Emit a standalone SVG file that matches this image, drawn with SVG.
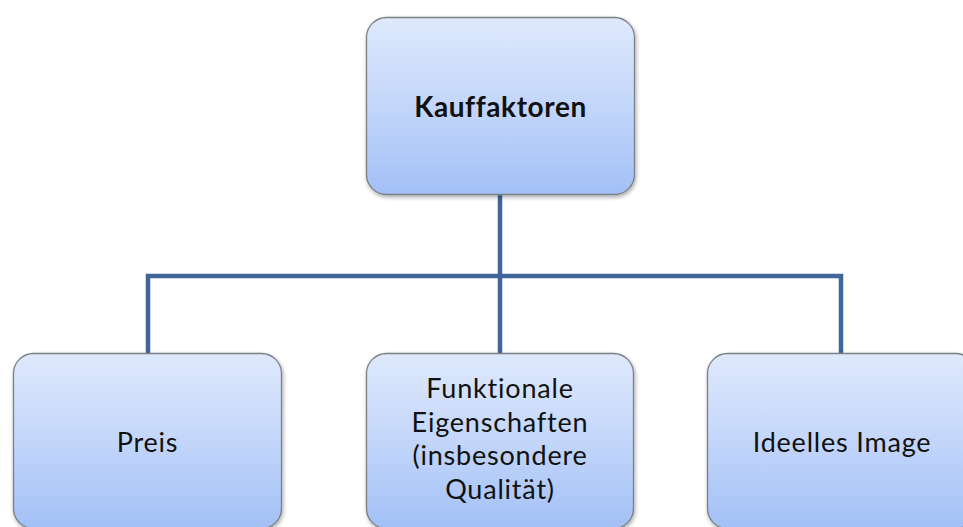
<svg xmlns="http://www.w3.org/2000/svg" width="963" height="527" viewBox="0 0 963 527">
<defs>
<linearGradient id="g" x1="0" y1="0" x2="0" y2="1">
<stop offset="0" stop-color="#dfe9fc"/>
<stop offset="0.5" stop-color="#c3d6fa"/>
<stop offset="1" stop-color="#a2c0f6"/>
</linearGradient>
<filter id="sh" x="-10%" y="-10%" width="120%" height="120%">
<feGaussianBlur in="SourceAlpha" stdDeviation="2"/>
<feOffset dx="1" dy="2"/>
<feComponentTransfer><feFuncA type="linear" slope="0.35"/></feComponentTransfer>
<feMerge><feMergeNode/><feMergeNode in="SourceGraphic"/></feMerge>
</filter>
</defs>
<style>
.box{fill:url(#g);stroke:#7a7f88;stroke-width:1.3;filter:url(#sh)}
.t{font-family:Lato,"Open Sans","Liberation Sans",sans-serif;font-size:27px;letter-spacing:0.8px;font-variant-ligatures:none;fill:#111;text-anchor:middle}
.b{font-weight:bold;font-size:28px;letter-spacing:0.6px}
.c{fill:none;stroke:#41669a;stroke-width:4.5}
</style>
<rect width="963" height="527" fill="#fff"/>
<g id="connectors">
<path class="c" d="M500 195 V276"/>
<path class="c" d="M148 353 V276 H841 V353"/>
<path class="c" d="M500 276 V353"/>
</g>
<g id="kauffaktoren">
<rect class="box" x="366.5" y="17.5" width="268" height="177" rx="20"/>
<text class="t b" x="500.5" y="117">Kauffaktoren</text>
</g>
<g id="preis">
<rect class="box" x="13.5" y="353.5" width="268" height="175" rx="20"/>
<text class="t" x="147.5" y="452">Preis</text>
</g>
<g id="funktionale">
<rect class="box" x="366.5" y="353.5" width="267" height="175" rx="20"/>
<text class="t" x="500" y="398">Funktionale</text>
<text class="t" x="500" y="432">Eigenschaften</text>
<text class="t" x="500" y="465">(insbesondere</text>
<text class="t" x="500" y="499">Qualität)</text>
</g>
<g id="ideelles">
<rect class="box" x="707.5" y="353.5" width="268" height="175" rx="20"/>
<text class="t" x="842" y="452">Ideelles Image</text>
</g>
</svg>
